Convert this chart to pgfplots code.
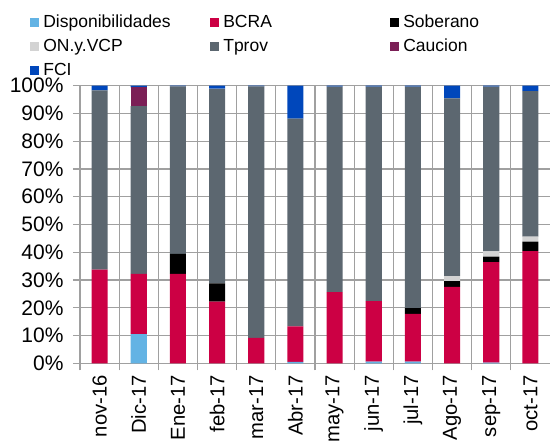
\documentclass[border=0pt]{standalone}
\usepackage{fontspec}
\setmainfont{Liberation Sans}
\usepackage{pgfplots}
\pgfplotsset{compat=1.18}
\definecolor{cDisp}{HTML}{63B3E4}
\definecolor{cBCRA}{HTML}{CC0044}
\definecolor{cSob}{HTML}{000000}
\definecolor{cON}{HTML}{D3D3D3}
\definecolor{cTprov}{HTML}{5C6770}
\definecolor{cCauc}{HTML}{7B1F56}
\definecolor{cFCI}{HTML}{0047BB}
\definecolor{gridc}{HTML}{A0A0A0}
\begin{document}
\begin{tikzpicture}
\path[use as bounding box] (0,0) rectangle (550pt,444pt);
\begin{axis}[
  at={(80pt,80.7pt)}, anchor=south west,
  scale only axis, width=470pt, height=277.6pt,
  ybar stacked, bar width=0.41,
  xmin=-0.5, xmax=11.5, ymin=0, ymax=100,
  axis lines=left, axis line style={-, draw=gridc, line width=1.3pt},
  xtick={-0.5,0.5,...,10.5}, xticklabels={},
  extra x ticks={0,1,2,3,4,5,6,7,8,9,10,11},
  extra x tick labels={nov-16,Dic-17,Ene-17,feb-17,mar-17,Abr-17,may-17,jun-17,jul-17,Ago-17,sep-17,oct-17},
  extra x tick style={major tick length=0pt, grid=none},
  xmajorgrids, ymajorgrids,
  grid style={draw=gridc, line width=1.3pt},
  ytick={0,10,...,100},
  yticklabels={0\%,10\%,20\%,30\%,40\%,50\%,60\%,70\%,80\%,90\%,100\%},
  tick align=outside, major tick length=7pt,
  tick style={draw=gridc, line width=1.3pt},
  yticklabel shift=6pt, xticklabel shift=8.5pt,
  yticklabel style={font=\fontsize{21}{24}\selectfont},
  xticklabel style={font=\fontsize{20.2}{24}\selectfont, rotate=90, anchor=east},
  legend columns=3, legend cell align=left,
  legend style={at={(-0.1125,1.2656)}, anchor=north west, draw=none, fill=none,
    font=\fontsize{17.5}{20}\selectfont, column sep=2pt, row sep=7pt,
    nodes={inner xsep=2pt, inner ysep=0pt, text height=13pt, text depth=4pt}},
  legend image code/.code={\fill[#1] (0pt,-4.5pt) rectangle (9pt,4.5pt);},
  every axis plot/.append style={draw=none},
]
\addplot[fill=cDisp] coordinates {(0,0) (1,10.5) (2,0) (3,0) (4,0) (5,0.5) (6,0) (7,0.6) (8,0.6) (9,0) (10,0.2) (11,0)};
\addlegendentry{\makebox[163pt][l]{Disponibilidades}}
\addplot[fill=cBCRA] coordinates {(0,33.7) (1,21.7) (2,32.2) (3,22.2) (4,9.2) (5,12.8) (6,25.6) (7,21.8) (8,17.2) (9,27.5) (10,36.2) (11,40.4)};
\addlegendentry{\makebox[163pt][l]{BCRA}}
\addplot[fill=cSob] coordinates {(0,0) (1,0) (2,7.2) (3,6.6) (4,0) (5,0) (6,0) (7,0) (8,2.1) (9,2.1) (10,2.0) (11,3.4)};
\addlegendentry{Soberano}
\addplot[fill=cON] coordinates {(0,0) (1,0) (2,0) (3,0) (4,0) (5,0) (6,0) (7,0) (8,0) (9,1.8) (10,1.9) (11,1.8)};
\addlegendentry{\makebox[163pt][l]{ON.y.VCP}}
\addplot[fill=cTprov] coordinates {(0,64.6) (1,60.4) (2,60.4) (3,70.1) (4,90.6) (5,74.8) (6,74.1) (7,77.3) (8,79.8) (9,64.0) (10,59.4) (11,52.4)};
\addlegendentry{\makebox[163pt][l]{Tprov}}
\addplot[fill=cCauc] coordinates {(0,0) (1,6.8) (2,0) (3,0) (4,0) (5,0) (6,0) (7,0) (8,0) (9,0) (10,0) (11,0)};
\addlegendentry{Caucion}
\addplot[fill=cFCI] coordinates {(0,1.7) (1,0.6) (2,0.2) (3,1.1) (4,0.2) (5,11.9) (6,0.3) (7,0.3) (8,0.3) (9,4.6) (10,0.3) (11,2.0)};
\addlegendentry{FCI}
\end{axis}
\end{tikzpicture}
\end{document}
